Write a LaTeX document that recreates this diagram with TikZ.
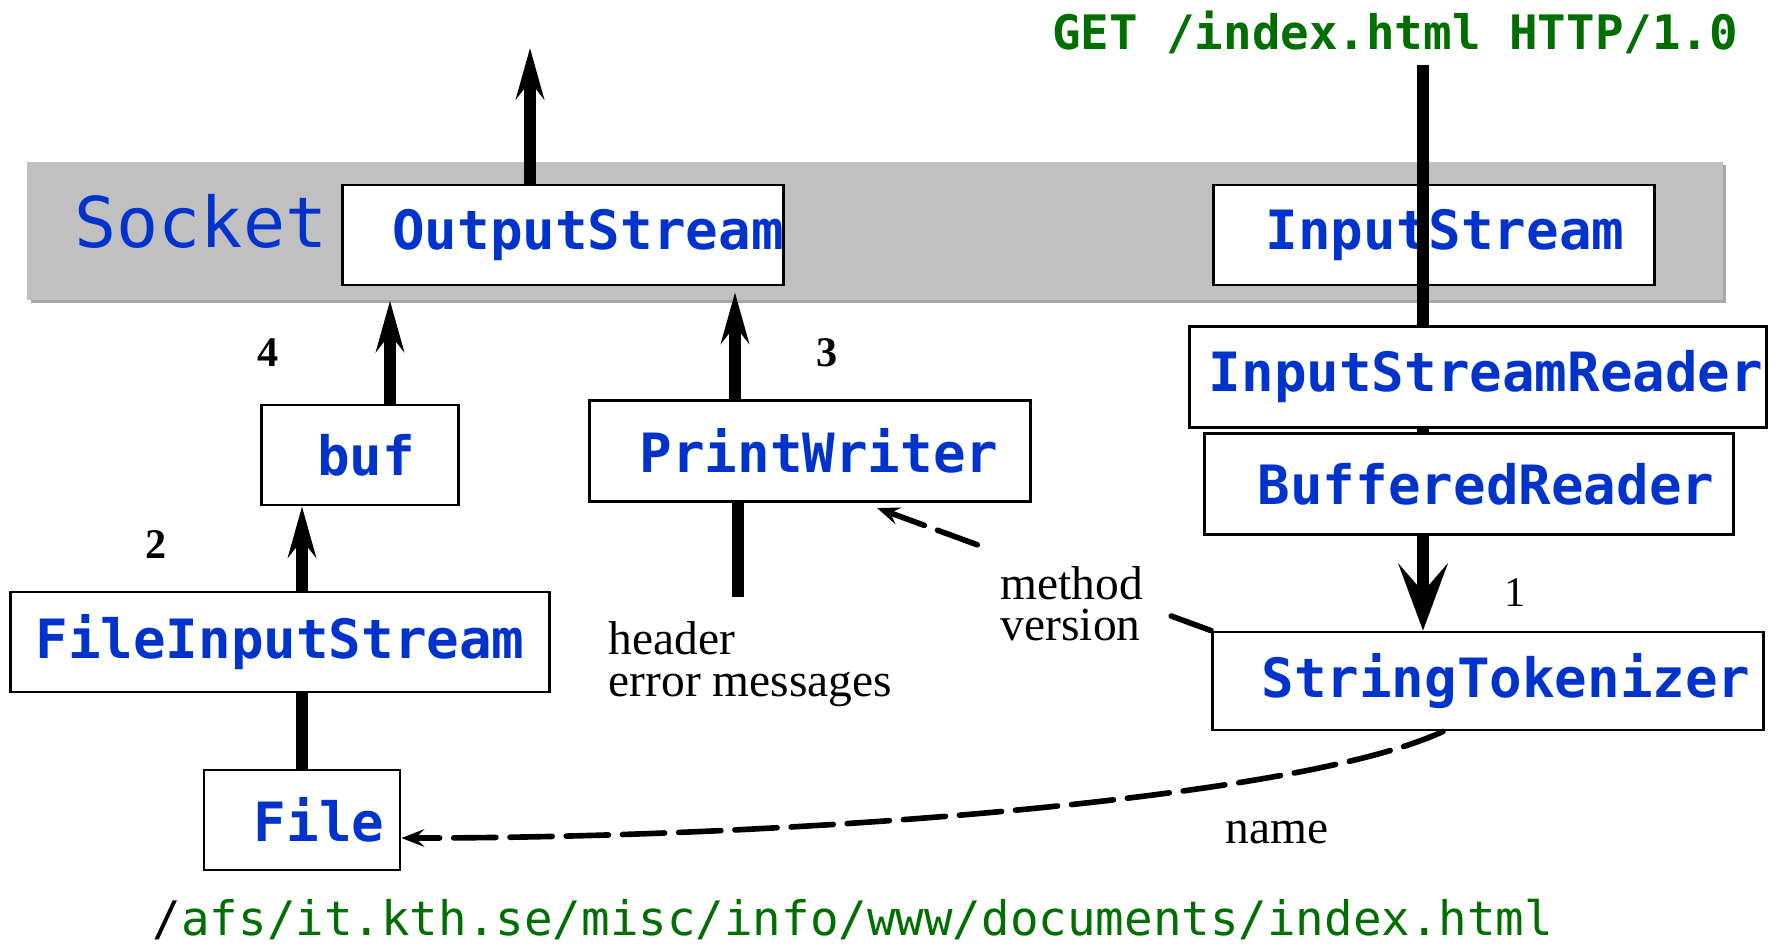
\documentclass[tikz,border=0pt]{standalone}
\usepackage{fontspec}
\setmainfont{Liberation Serif}
\newfontfamily\codefont{DejaVu Sans Mono}
\usetikzlibrary{arrows.meta,calc}
\definecolor{codeblue}{RGB}{0,51,204}
\definecolor{codegreen}{RGB}{0,110,0}
\definecolor{sockgray}{RGB}{192,192,192}
\tikzset{textpush/.style={execute at begin node={\hspace*{#1}}}}

\begin{document}
\begin{tikzpicture}[x=0.01cm,y=-0.01cm]
	\tikzstyle{every node}+=[inner sep=0pt]
	\tikzstyle{obj}=[draw=black,line width=0.8pt,fill=white,font=\codefont\bfseries\fontsize{15.4}{18}\selectfont,text=codeblue]
	\tikzstyle{pipe}=[black,line width=3.2pt]
	\tikzstyle{flow}=[pipe,-{Stealth[length=14.5pt,width=8pt,inset=5pt]}]
	\tikzstyle{hint}=[black,line width=1.6pt,line cap=round,dash pattern=on 12pt off 4pt]
	\tikzstyle{lbl}=[font=\fontsize{13.5}{11.8}\selectfont,align=left]
	\tikzstyle{num}=[font=\bfseries\fontsize{12}{14}\selectfont]
	\useasboundingbox (0,0) rectangle (1781,951);
	% socket band
	\fill[gray!70] (31,165) rectangle (1726,303);
	\node[fill=sockgray,minimum width=16.95cm,minimum height=1.38cm] (socket) at (875,231) {};
	\node[font=\codefont\fontsize{19.9}{22}\selectfont,text=codeblue] (socklbl) at (201,221) {Socket};
	\node[obj,textpush=0.5cm,minimum width=4.4cm,minimum height=1cm] (out) at (563,235) {OutputStream};
	\node[obj,textpush=0.22cm,minimum width=4.4cm,minimum height=1cm] (in) at (1434,235) {InputStream};
	% request line
	\node[font=\codefont\bfseries\fontsize{13.5}{16}\selectfont,text=codegreen] (req) at (1395,32) {GET /index.html HTTP/1.0};
	\coordinate (reqfoot) at (1423,65);
	\draw[pipe] (reqfoot) -- (reqfoot |- 0,327);
	\node[obj,textpush=0.16cm,minimum width=5.77cm,minimum height=1.01cm] (isr) at (1478,377) {InputStreamReader};
	\node[obj,textpush=0.34cm,minimum width=5.28cm,minimum height=1.01cm] (br) at (1469,484) {BufferedReader};
	\node[obj,textpush=0.36cm,minimum width=5.51cm,minimum height=0.98cm] (st) at (1488,681) {StringTokenizer};
	\draw[pipe] (reqfoot |- isr.south) -- (reqfoot |- br.north);
	\draw[pipe,-{Stealth[length=19pt,width=14pt,inset=8pt]}] (reqfoot |- br.south) -- (reqfoot |- st.north);
	% reply side
	\node[obj,textpush=0.12cm,minimum width=1.97cm,minimum height=1cm] (buf) at (360,455) {buf};
	\node[obj,textpush=0.18cm,minimum width=4.41cm,minimum height=1.01cm] (pw) at (810,451) {PrintWriter};
	\node[obj,minimum width=5.38cm,minimum height=1cm] (fis) at (280,642) {FileInputStream};
	\node[obj,textpush=0.34cm,minimum width=1.96cm,minimum height=1cm] (file) at (302,820) {File};
	\coordinate (sendtop) at (530,48);
	\draw[flow] (sendtop |- out.north) -- (sendtop);
	\coordinate (bufup) at ($(buf.north)+(30,0)$);
	\draw[flow] (bufup) -- (bufup |- socket.south);
	\coordinate (pwup) at ($(pw.north)+(-75,0)$);
	\draw[flow] (pwup) -- ($(pwup |- out.south)+(0,6)$);
	\coordinate (pwfoot) at (738,597);
	\draw[pipe] (pwfoot |- pw.south) -- (pwfoot);
	\draw[flow] (file.north |- fis.north) -- (file.north |- buf.south);
	\draw[pipe] (file.north |- fis.south) -- (file.north);
	% dashed hints
	\coordinate (mvtip) at (877,508);
	\draw[hint] (st.north west) -- ($(st.north west)!0.12!(mvtip)$);
	\draw[hint,-{Stealth[length=6.5pt,width=5pt,inset=2.5pt]}] ($(st.north west)!0.70!(mvtip)$) -- (mvtip);
	\draw[hint,-{Stealth[length=6.5pt,width=5pt,inset=2.5pt]}] ([xshift=-0.45cm]st.south) .. controls +(-143,67) and +(397,0) .. ([yshift=-0.18cm]file.east);
	% labels
	\node[num] (n4) at (268,353) {4};
	\node[num] (n3) at (827,353) {3};
	\node[num] (n2) at (156,545) {2};
	\node[font=\fontsize{12}{14}\selectfont] (n1) at (1515,593) {1};
	\node[lbl,anchor=west] (hdr) at (608,664) {header\\error messages};
	\node[lbl,anchor=west] (mv) at (1000,604) {method\\version};
	\node[lbl] (nm) at (1277,833) {name};
	\node[font=\codefont\fontsize{13.5}{16}\selectfont,text=codegreen] (path) at (853,920) {\textcolor{black}{/}afs/it.kth.se/misc/info/www/documents/index.html};
\end{tikzpicture}
\end{document}
